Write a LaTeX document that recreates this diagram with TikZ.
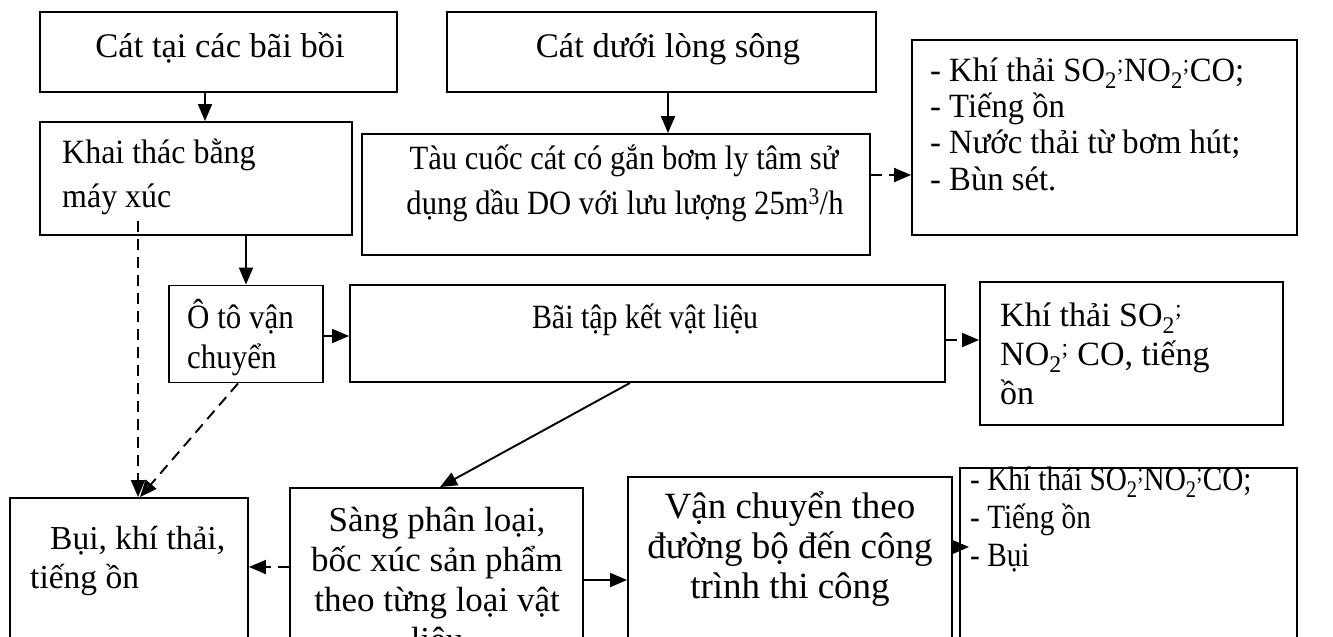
\documentclass[tikz,border=0pt]{standalone}
\usepackage{fontspec}
\usepackage{graphicx}
\setmainfont{Liberation Serif}
\usetikzlibrary{arrows.meta}
\tikzset{
  box/.style={draw, line width=1.9pt, inner sep=0pt},
  arr/.style={line width=1.9pt, -{Triangle[length=17pt,width=14pt]}},
  darr/.style={arr, dash pattern=on 11pt off 7pt},
  tl/.style={inner sep=0pt, anchor=base west},
  tc/.style={inner sep=0pt, anchor=base},
}
\newcommand\fs[1]{\fontsize{#1pt}{#1pt}\selectfont}
\newcommand\cx[2]{\scalebox{#1}[1]{#2}}
\newcommand\subtwo{\textsubscript{2}\textsuperscript{;}}
\begin{document}
\begin{tikzpicture}[x=1pt,y=-1pt]
\useasboundingbox (0,0) rectangle (1333,637);
\clip (0,0) rectangle (1333,637);
% boxes
\node[box, minimum width=357pt, minimum height=80pt]  (A)   at (218.5,52) {};
\node[box, minimum width=429pt, minimum height=80pt]  (B)   at (661.5,52) {};
\node[box, minimum width=312pt, minimum height=113pt] (KT)  at (196,178.5) {};
\node[box, minimum width=508pt, minimum height=121pt] (TAU) at (616,194.5) {};
\node[box, minimum width=385pt, minimum height=195pt] (R1)  at (1104.5,137.5) {};
\node[box, minimum width=154pt, minimum height=97pt]  (OTO) at (246,334) {};
\node[box, minimum width=595pt, minimum height=97pt]  (BAI) at (647.5,333.5) {};
\node[box, minimum width=303pt, minimum height=143pt] (R2)  at (1131.5,353.5) {};
\node[box, minimum width=238pt, minimum height=202pt] (BUI) at (129,599) {};
\node[box, minimum width=293pt, minimum height=212pt] (SANG) at (436.5,594) {};
\node[box, minimum width=324pt, minimum height=223pt] (VAN) at (790,588.5) {};
\node[box, minimum width=337pt, minimum height=232pt] (R3)  at (1128.5,584) {};
% texts
\node[tc, font=\fs{34.5}] (tA) at (220,57) {Cát tại các bãi bồi};
\node[tc, font=\fs{34.5}] (tB) at (668,57) {Cát dưới lòng sông};
\node[tl, font=\fs{34}] (tKT1) at (62,163) {\cx{0.94}{Khai thác bằng}};
\node[tl, font=\fs{34}] (tKT2) at (62,207) {\cx{0.94}{máy xúc}};
\node[tc, font=\fs{34}] (tT1) at (624,169) {\cx{0.9}{Tàu cuốc cát có gắn bơm ly tâm sử}};
\node[tc, font=\fs{34}] (tT2) at (625,214) {\cx{0.9}{dụng dầu DO với lưu lượng 25m\textsuperscript{3}/h}};
\node[tl, font=\fs{34}] (tR11) at (930,81) {\cx{0.96}{- Khí thải SO\subtwo NO\subtwo CO;}};
\node[tl, font=\fs{34}] (tR12) at (930,117) {\cx{0.96}{- Tiếng ồn}};
\node[tl, font=\fs{34}] (tR13) at (930,153) {\cx{0.96}{- Nước thải từ bơm hút;}};
\node[tl, font=\fs{34}] (tR14) at (930,190) {\cx{0.96}{- Bùn sét.}};
\node[tl, font=\fs{34}] (tO1) at (187,328) {\cx{0.91}{Ô tô vận}};
\node[tl, font=\fs{34}] (tO2) at (187,368) {\cx{0.91}{chuyển}};
\node[tc, font=\fs{34}] (tBai) at (645,328) {\cx{0.88}{Bãi tập kết vật liệu}};
\node[tl, font=\fs{34}] (tR21) at (1000,326) {Khí thải SO\subtwo};
\node[tl, font=\fs{34}] (tR22) at (1000,365) {NO\subtwo\ CO, tiếng};
\node[tl, font=\fs{34}] (tR23) at (1000,404) {ồn};
\node[tl, font=\fs{33.5}] (tBu1) at (50,549) {Bụi, khí thải,};
\node[tl, font=\fs{33.5}] (tBu2) at (30,588) {tiếng ồn};
\node[tc, font=\fs{35}] (tS1) at (437,531) {Sàng phân loại,};
\node[tc, font=\fs{35}] (tS2) at (437,571) {bốc xúc sản phẩm};
\node[tc, font=\fs{35}] (tS3) at (437,611) {theo từng loại vật};
\node[tc, font=\fs{35}] (tS4) at (437,651) {liệu};
\node[tc, font=\fs{37}] (tV1) at (790,518) {Vận chuyển theo};
\node[tc, font=\fs{37}] (tV2) at (790,558) {đường bộ đến công};
\node[tc, font=\fs{37}] (tV3) at (790,598) {trình thi công};
\node[tl, font=\fs{34}] (tR31) at (970,490) {\cx{0.86}{- Khí thải SO\subtwo NO\subtwo CO;}};
\node[tl, font=\fs{34}] (tR32) at (970,528) {\cx{0.86}{- Tiếng ồn}};
\node[tl, font=\fs{34}] (tR33) at (970,566) {\cx{0.86}{- Bụi}};
% connectors
\draw[arr] ([xshift=-13.5pt]A.south) -- ([xshift=9pt]KT.north);
\draw[arr] ([xshift=6.5pt]B.south) -- ([xshift=52pt]TAU.north);
\draw[darr] ([yshift=19.5pt]TAU.east) -- ([yshift=-37.5pt]R1.west);
\draw[arr] ([xshift=50pt]KT.south) -- ([xshift=0pt]OTO.north);
\draw[arr] ([yshift=-2pt]OTO.east) -- ([yshift=-2.5pt]BAI.west);
\draw[darr] ([yshift=-6.5pt]BAI.east) -- ([yshift=13.5pt]R2.west);
\draw[arr] ([xshift=-17.5pt]BAI.south) -- ([xshift=3.5pt]SANG.north);
\draw[darr] ([xshift=-58pt,yshift=15pt]KT.south) -- ([xshift=9pt]BUI.north);
\draw[darr] ([xshift=-8pt]OTO.south) -- ([xshift=11pt]BUI.north);
\draw[darr] ([yshift=27pt]SANG.west) -- ([yshift=32pt]BUI.east);
\draw[arr] ([yshift=14pt]SANG.east) -- ([yshift=8.5pt]VAN.west);
\draw[arr] ([yshift=41.5pt]VAN.east) -- ([xshift=10pt,yshift=37pt]R3.west);
\end{tikzpicture}
\end{document}
